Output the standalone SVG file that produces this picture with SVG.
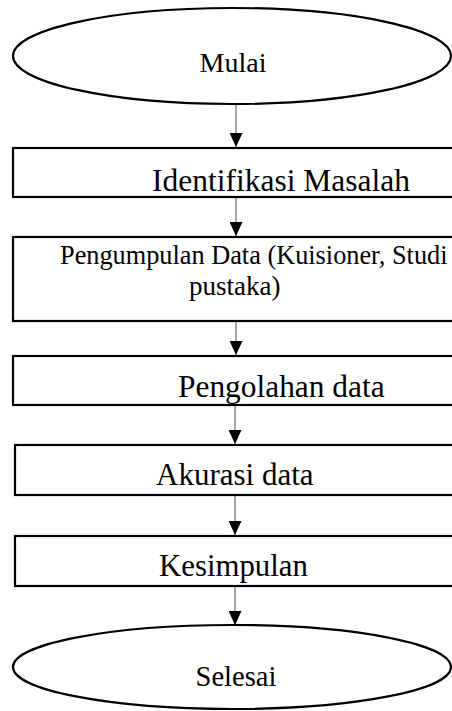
<svg xmlns="http://www.w3.org/2000/svg" width="452" height="711" viewBox="0 0 452 711">
<style>
.sh{fill:#fff;stroke:#000;stroke-width:2.2}
.t{font-family:"Liberation Serif","Times New Roman",serif;fill:#000}
.c{stroke:#808080;stroke-width:1.4;fill:none}
</style>
<defs>
<marker id="ah" viewBox="0 0 14 13" refX="14" refY="6.5" markerWidth="14" markerHeight="13" markerUnits="userSpaceOnUse" orient="auto">
<path d="M0,0 L14,6.5 L0,13 Z" fill="#000"/>
</marker>
</defs>
<rect width="452" height="711" fill="#fff"/>
<g id="connectors">
<line class="c" x1="236" y1="105" x2="236" y2="147" marker-end="url(#ah)"/>
<line class="c" x1="236" y1="197" x2="236" y2="236" marker-end="url(#ah)"/>
<line class="c" x1="236" y1="318" x2="236" y2="355" marker-end="url(#ah)"/>
<line class="c" x1="235" y1="405" x2="235" y2="444" marker-end="url(#ah)"/>
<line class="c" x1="235" y1="495" x2="235" y2="535" marker-end="url(#ah)"/>
<line class="c" x1="235" y1="586" x2="235" y2="625" marker-end="url(#ah)"/>
</g>
<g id="mulai">
<ellipse class="sh" cx="232" cy="56" rx="219" ry="48"/>
<text class="t" x="233" y="72" font-size="28" text-anchor="middle">Mulai</text>
</g>
<g id="identifikasi">
<rect class="sh" x="13" y="148" width="450" height="49"/>
<text class="t" x="152" y="191" font-size="31.5">Identifikasi Masalah</text>
</g>
<g id="pengumpulan">
<rect class="sh" x="13" y="237" width="450" height="84"/>
<text class="t" x="60" y="264" font-size="26.3">Pengumpulan Data (Kuisioner, Studi</text>
<text class="t" x="189" y="295" font-size="27">pustaka)</text>
</g>
<g id="pengolahan">
<rect class="sh" x="13" y="356" width="450" height="49"/>
<text class="t" x="178" y="397" font-size="31.4">Pengolahan data</text>
</g>
<g id="akurasi">
<rect class="sh" x="15" y="445" width="450" height="50"/>
<text class="t" x="156" y="485" font-size="31">Akurasi data</text>
</g>
<g id="kesimpulan">
<rect class="sh" x="15" y="536" width="450" height="50"/>
<text class="t" x="159" y="576" font-size="30.8">Kesimpulan</text>
</g>
<g id="selesai">
<ellipse class="sh" cx="232" cy="667" rx="219" ry="42"/>
<text class="t" x="236" y="686" font-size="28.6" text-anchor="middle">Selesai</text>
</g>
</svg>
